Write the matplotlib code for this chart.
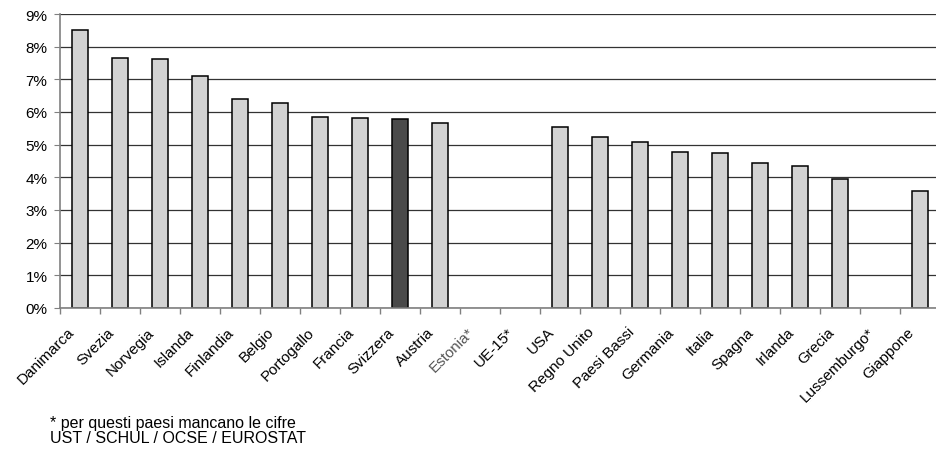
import numpy as np
import matplotlib.pyplot as plt
import matplotlib.transforms as mtransforms
from matplotlib.ticker import PercentFormatter

plt.rcParams['font.family'] = ['Liberation Sans', 'DejaVu Sans']

# Paesi e quote (%), None = cifra mancante
paesi = ['Danimarca', 'Svezia', 'Norvegia', 'Islanda', 'Finlandia', 'Belgio',
         'Portogallo', 'Francia', 'Svizzera', 'Austria', 'Estonia*',
         'UE-15*', 'USA', 'Regno Unito', 'Paesi Bassi', 'Germania', 'Italia',
         'Spagna', 'Irlanda', 'Grecia', 'Lussemburgo*', 'Giappone']
valori = [8.51, 7.64, 7.62, 7.10, 6.40, 6.27, 5.84, 5.81, 5.79, 5.65, None,
          None, 5.55, 5.24, 5.07, 4.78, 4.74, 4.43, 4.36, 3.94, None, 3.58]
evidenziato = 'Svizzera'

fig = plt.figure(figsize=(9.36, 4.52), dpi=100)
ax = fig.add_axes([0.0641, 0.3164, 0.9402, 0.6504])

x = np.arange(len(paesi))
h = [v if v is not None else 0 for v in valori]
colori = ['#4a4a4a' if p == evidenziato else '#d3d3d3' for p in paesi]
bars = ax.bar(x, h, width=0.4, color=colori, edgecolor='black', linewidth=1.1, zorder=3)
for b, v in zip(bars, valori):
    if v is None:
        b.set_visible(False)

ax.set_xlim(-0.5, len(paesi) - 0.5)
ax.set_ylim(0, 9)
ax.set_yticks(np.arange(0, 10, 1))
ax.yaxis.set_major_formatter(PercentFormatter(decimals=0))
ax.grid(axis='y', color='#333333', linewidth=0.9, zorder=0)

for s in ['top', 'right']:
    ax.spines[s].set_visible(False)
for s in ['left', 'bottom']:
    ax.spines[s].set_color('#808080')
    ax.spines[s].set_linewidth(1.2)
    ax.spines[s].set_zorder(4)

# tick tra le categorie, etichette al centro
ax.set_xticks(np.arange(-0.5, len(paesi), 1))
ax.set_xticklabels([])
ax.tick_params(axis='x', length=4, color='#808080', width=1)
ax.set_xticks(x, minor=True)
ax.set_xticklabels(paesi, minor=True, rotation=45, ha='right', va='top',
                   rotation_mode='anchor', fontsize=11)
ax.tick_params(axis='x', which='minor', length=0, pad=4)
ax.tick_params(axis='y', length=4, color='#808080', labelsize=11, pad=5)
shift = mtransforms.ScaledTranslation(-0.13, -0.11, fig.dpi_scale_trans)
for lab in ax.get_xticklabels(minor=True):
    lab.set_transform(lab.get_transform() + shift)
    if lab.get_text().startswith('Estonia'):
        lab.set_color('#555555')

fig.text(0.0534, 0.053, '* per questi paesi mancano le cifre', fontsize=11.5, va='baseline')
fig.text(0.0534, 0.020, 'UST / SCHUL / OCSE / EUROSTAT', fontsize=11.5, va='baseline')

fig.savefig('out.png', dpi=100)
